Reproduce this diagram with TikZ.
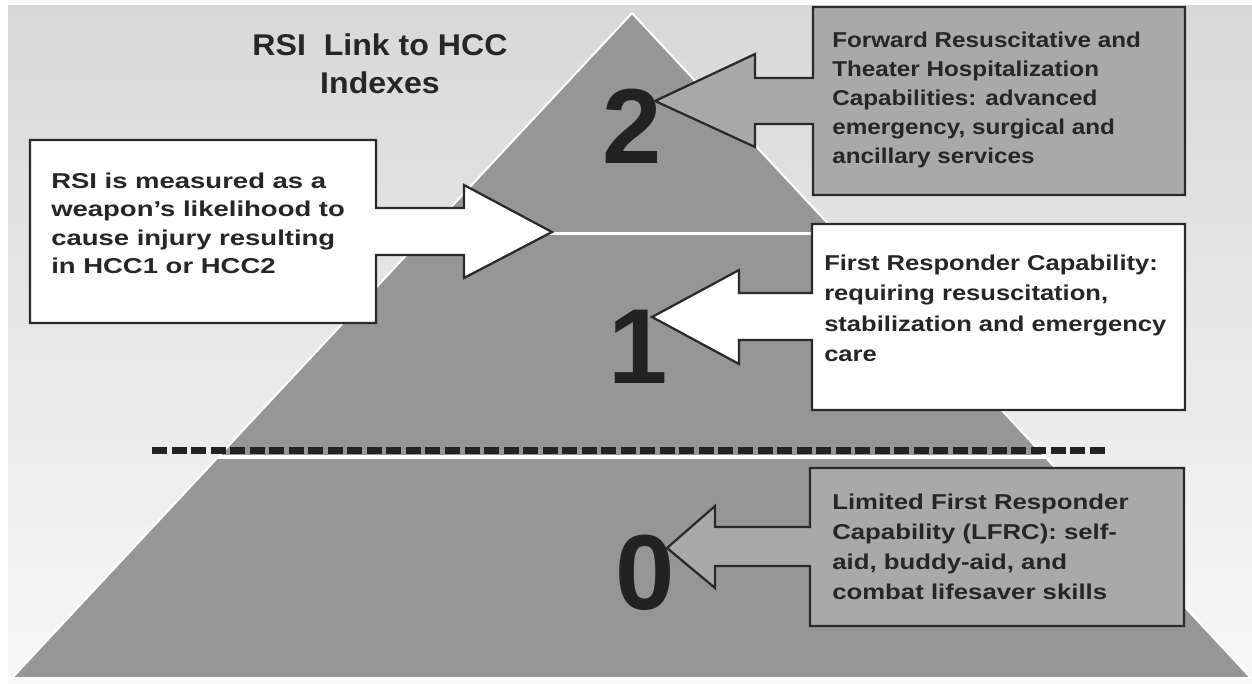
\documentclass[tikz,border=0pt]{standalone}
\usepackage{fontspec}
\setmainfont{Liberation Sans}
\newfontfamily\fA{Liberation Sans}[FakeStretch=1.28]
\newfontfamily\fB{Liberation Sans}[FakeStretch=1.13]
\newfontfamily\fC{Liberation Sans}[FakeStretch=1.19]
\newfontfamily\fD{Liberation Sans}[FakeStretch=1.20]
\newfontfamily\fT{Liberation Sans}[FakeStretch=1.07]
\newfontfamily\fN{Liberation Sans}
\definecolor{pyr}{HTML}{969696}
\definecolor{boxg}{HTML}{A9A9A9}
\definecolor{ink}{HTML}{262626}
\definecolor{edge}{HTML}{2A2A2A}
\definecolor{numc}{HTML}{222222}
\definecolor{bgtop}{HTML}{D8D8D8}
\definecolor{bgbot}{HTML}{F8F8F8}
\tikzset{
  boxshape/.style={line width=1.7pt, draw=edge, line join=miter},
  txt/.style={anchor=base west, inner sep=0pt, text=ink},
  bignum/.style={anchor=base, inner sep=0pt, text=numc, font=\fN\bfseries\fontsize{80}{80}\selectfont},
}
\begin{document}
\begin{tikzpicture}[x=0.75pt,y=-0.75pt]
\useasboundingbox (0,0) rectangle (1252,683);
\shade[top color=bgtop, bottom color=bgbot] (8,5) rectangle (1252,683);

% pyramid
\coordinate (apex) at (632,13);
\coordinate (bl) at (12,678);
\coordinate (br) at (1251,678);
\fill[pyr] (apex) -- (br) -- (bl) -- cycle;
\begin{scope}
  \clip (apex) -- (br) -- (bl) -- cycle;
  \draw[white, line width=2.25pt] (0,233) -- (1252,233);
  \draw[white, line width=3pt] (0,457) -- (1252,457);
\end{scope}
\draw[white, line width=1.5pt, line join=round] (apex) -- (br) -- (bl) -- cycle;

% dashed separator
\coordinate (dA) at (152,450.5);
\coordinate (dB) at (1106,450.5);
\draw[numc, line width=5.25pt, dash pattern=on 11.25pt off 3.4pt] (dA) -- (dB);

% numbers
\node[bignum] (n2) at (632,163) {2};
\node[bignum] (n1) at (638,383) {1};
\node[bignum] (n0) at (645,609) {0};

% top-right box with arrow
\filldraw[boxshape, fill=boxg] (1185,7) -- (813,7) -- (813,78) -- (755,78) -- (755,54) -- (655,101)
  -- (755,147) -- (755,124) -- (813,124) -- (813,195) -- (1185,195) -- cycle;
% left box with arrow
\filldraw[boxshape, fill=white] (30,140) -- (376,140) -- (376,208) -- (464,208) -- (464,185) -- (552,232)
  -- (464,278) -- (464,255) -- (376,255) -- (376,323) -- (30,323) -- cycle;
% middle box with arrow
\filldraw[boxshape, fill=white] (812,224) -- (1185,224) -- (1185,410) -- (812,410) -- (812,340) -- (739,340)
  -- (739,364) -- (652,317) -- (739,270) -- (739,293) -- (812,293) -- cycle;
% bottom box with arrow
\filldraw[boxshape, fill=boxg] (810,468) -- (1184,468) -- (1184,626) -- (810,626) -- (810,566) -- (715,566)
  -- (715,588) -- (667,548) -- (715,506) -- (715,527) -- (810,527) -- cycle;

% title
\node[anchor=base, inner sep=0pt, text=ink] (title) at (380,55)
  {\parbox[t]{300pt}{\centering\fT\bfseries\fontsize{22.5}{28.5}\selectfont RSI\ \ Link to HCC\\Indexes}};

% texts
\node[txt] (tL) at (51,188)
  {\parbox[t]{300pt}{\raggedright\fA\bfseries\fontsize{16.1}{21.4}\selectfont
   RSI is measured as a\\weapon’s likelihood to\\cause injury resulting\\in HCC1 or HCC2}};
\node[txt] (tR2) at (832,47)
  {\parbox[t]{300pt}{\raggedright\fB\bfseries\fontsize{16.1}{21.75}\selectfont
   Forward Resuscitative and\\Theater Hospitalization\\Capabilities: advanced\\emergency, surgical and\\ancillary services}};
\node[txt] (tR1) at (824,270)
  {\parbox[t]{300pt}{\raggedright\fC\bfseries\fontsize{16.1}{22.9}\selectfont
   First Responder Capability:\\requiring resuscitation,\\stabilization and emergency\\care}};
\node[txt] (tR0) at (832,509)
  {\parbox[t]{300pt}{\raggedright\fD\bfseries\fontsize{16.1}{22.7}\selectfont
   Limited First Responder\\Capability (LFRC): self-\\aid, buddy-aid, and\\combat lifesaver skills}};
\end{tikzpicture}
\end{document}
